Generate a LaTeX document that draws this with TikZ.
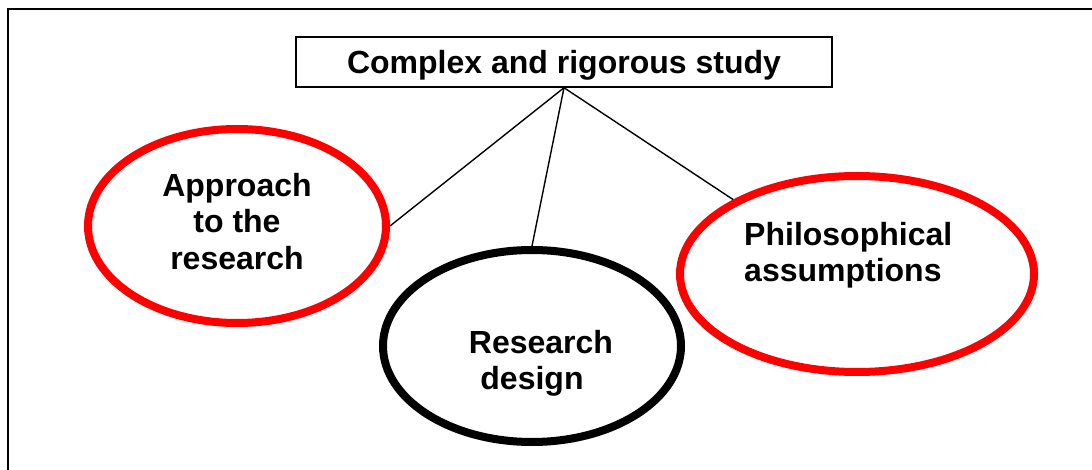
\documentclass[tikz,border=0pt]{standalone}
\usepackage{fontspec}
\setmainfont{Liberation Sans}
\usetikzlibrary{shapes.geometric}

\definecolor{ovalred}{RGB}{255,0,0}

\tikzset{
  frameline/.style={line width=2.5pt, line cap=rect},
  titlebox/.style={draw, line width=1.5pt, rectangle, inner sep=0pt,
    minimum width=536pt, minimum height=50pt, text depth=0pt,
    font=\bfseries\fontsize{32}{36.5}\selectfont},
  oval/.style={draw, ellipse, inner sep=0pt, line width=8pt},
  redoval/.style={oval, draw=ovalred},
  blackoval/.style={oval, draw=black},
  ovaltext/.style={inner sep=0pt, font=\bfseries\fontsize{32}{36.5}\selectfont},
  link/.style={line width=1.4pt}
}

\begin{document}
\begin{tikzpicture}[x=1pt, y=-1pt]
  \useasboundingbox (0,0) rectangle (1092,470);
  \fill[white] (0,0) rectangle (1092,470);

  % open frame: top and left edges only
  \coordinate (fbl) at (8,470);
  \coordinate (ftl) at (8,9);
  \coordinate (ftr) at (1092,9);
  \draw[frameline] (fbl) -- (ftl) -- (ftr);

  % heading box
  \node[titlebox] (top) at (564,62) {Complex and rigorous study};

  % the three ovals
  \node[redoval, minimum width=298pt, minimum height=194pt] (approach) at (237,226) {};
  \node[blackoval, minimum width=298pt, minimum height=192pt] (design) at (532,346) {};
  \node[redoval, minimum width=354pt, minimum height=196pt] (philo) at (857,274) {};

  % oval labels
  \node[ovaltext, align=center, anchor=north] (approachtext) at (237,173)
    {Approach\\to the\\research};
  \node[ovaltext, align=center, anchor=north] (designtext) at (532,330)
    {\hspace*{18pt}Research\\design};
  \node[ovaltext, align=left, anchor=north west] (philotext) at (744,222)
    {Philosophical\\assumptions};

  % connectors from the heading
  \draw[link] (top.south) -- (approach.east);
  \draw[link] (top.south) -- (design.north);
  \draw[link] (top.south) -- (philo.149);
\end{tikzpicture}
\end{document}
